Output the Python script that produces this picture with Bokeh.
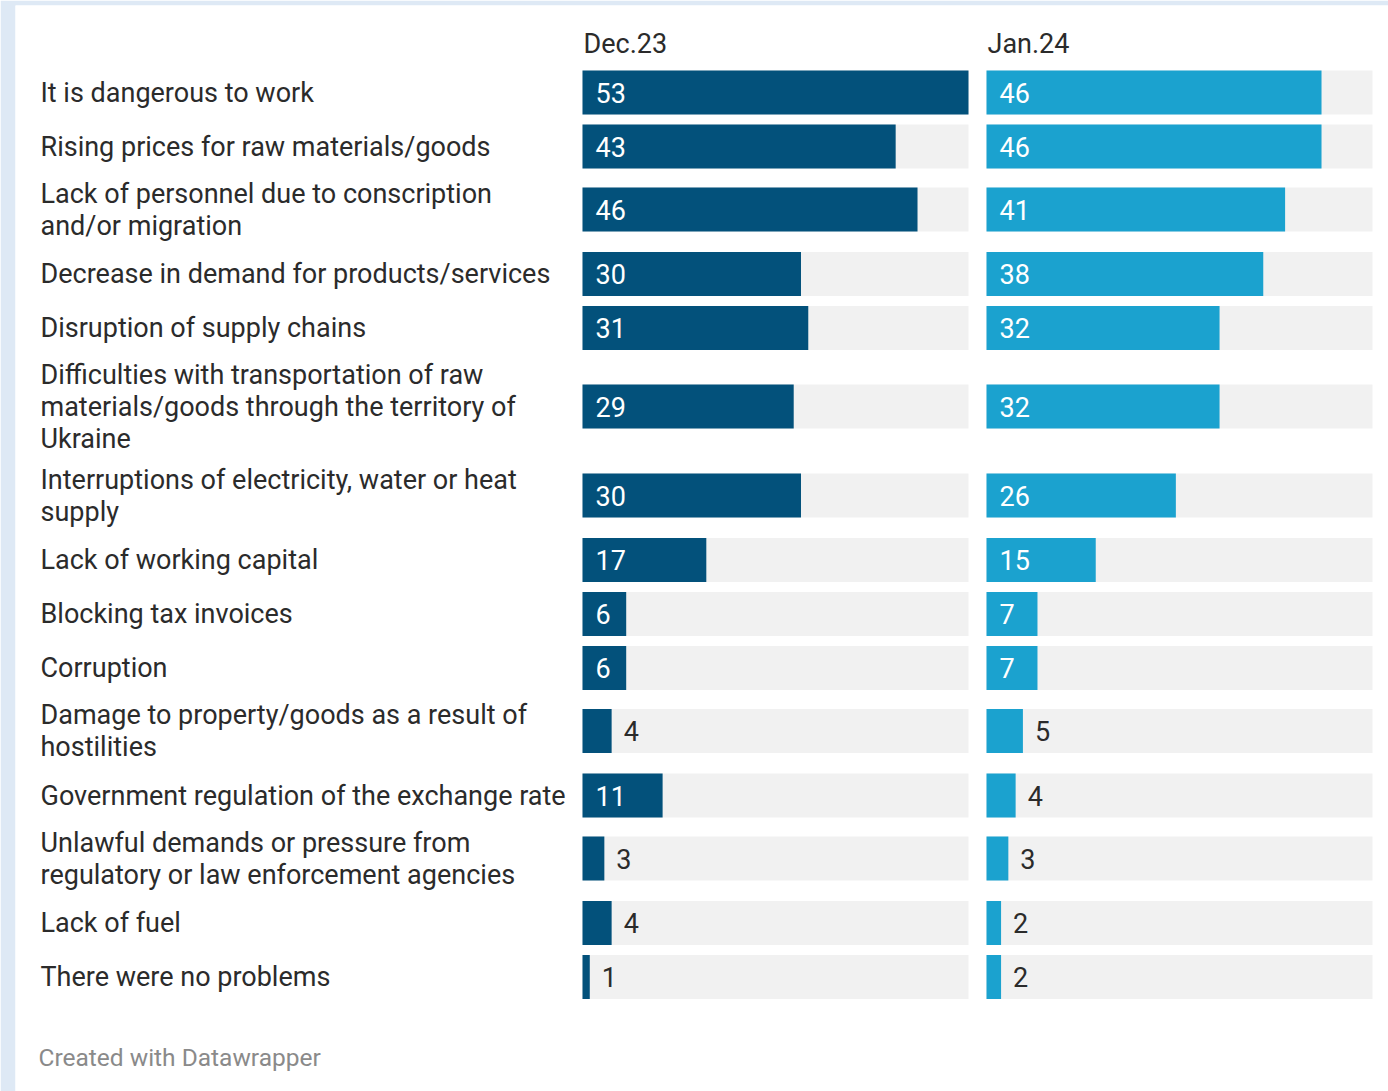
from bokeh.plotting import figure
from bokeh.models import Range1d, ColumnDataSource
from bokeh.embed import file_html
from bokeh.resources import INLINE
from bokeh.core.properties import value

# ---- data ----
categories = [
    "It is dangerous to work",
    "Rising prices for raw materials/goods",
    "Lack of personnel due to conscription\nand/or migration",
    "Decrease in demand for products/services",
    "Disruption of supply chains",
    "Difficulties with transportation of raw\nmaterials/goods through the territory of\nUkraine",
    "Interruptions of electricity, water or heat\nsupply",
    "Lack of working capital",
    "Blocking tax invoices",
    "Corruption",
    "Damage to property/goods as a result of\nhostilities",
    "Government regulation of the exchange rate",
    "Unlawful demands or pressure from\nregulatory or law enforcement agencies",
    "Lack of fuel",
    "There were no problems",
]
dec23 = [53, 43, 46, 30, 31, 29, 30, 17, 6, 6, 4, 11, 3, 4, 1]
jan24 = [46, 46, 41, 38, 32, 32, 26, 15, 7, 7, 5, 4, 3, 2, 2]
series_names = ["Dec.23", "Jan.24"]
footer = "Created with Datawrapper"

# ---- layout constants (pixels) ----
W, H = 1388, 1091
BORDER_L, BORDER_T = 15, 5
PANEL_X0 = 582          # page x of the first panel's zero
PANEL_W = 386           # width of a panel in pixels
PANEL_GAP = 18
BAR_H = 44
ROW_GAP = 10
HALF_LINE = 15.5
FIRST_TOP = 65          # frame y of first row top
FONT = "Roboto"
FS = "27px"

DEC_COL = "#03517b"
JAN_COL = "#1ba2cf"
TRACK = "#f1f1f1"
TXT = "#2b2b2b"

vmax = max(max(dec23), max(jan24))
s = PANEL_W / vmax
x_start = (BORDER_L - PANEL_X0) / s
x_end = (W - PANEL_X0) / s
jan_off = (PANEL_W + PANEL_GAP) / s
frame_h = H - BORDER_T

# row centres from number of label lines
centers = []
top = FIRST_TOP
for c in categories:
    n = c.count("\n") + 1
    if n == 1:
        up, down = BAR_H / 2, BAR_H / 2
    else:
        up, down = n * HALF_LINE, n * HALF_LINE + 1.5
    centers.append(top + up)
    top += up + down + ROW_GAP

p = figure(width=W, height=H, output_backend="svg", toolbar_location=None,
           x_range=Range1d(x_start, x_end), y_range=Range1d(frame_h, 0),
           min_border_left=BORDER_L, min_border_top=BORDER_T,
           min_border_right=0, min_border_bottom=0)
p.axis.visible = False
p.grid.visible = False
p.outline_line_color = None
p.background_fill_color = "white"
p.border_fill_color = "#dee9f5"

for off, vals, col, name in [(0, dec23, DEC_COL, series_names[0]),
                             (jan_off, jan24, JAN_COL, series_names[1])]:
    src = ColumnDataSource(dict(
        y=centers,
        left=[off] * len(vals),
        right=[off + v for v in vals],
        full=[off + vmax] * len(vals),
    ))
    p.hbar(y="y", left="left", right="full", height=BAR_H, source=src,
           fill_color=TRACK, line_color=None)
    p.hbar(y="y", left="left", right="right", height=BAR_H, source=src,
           fill_color=col, line_color=None)

    inside = [i for i, v in enumerate(vals) if v >= 6]
    outside = [i for i, v in enumerate(vals) if v < 6]
    p.text(x=[off] * len(inside), y=[centers[i] for i in inside],
           text=[str(vals[i]) for i in inside], x_offset=13,
           text_baseline="middle", text_align="left",
           text_font=value(FONT), text_font_size=FS, text_color="white")
    p.text(x=[off + vals[i] for i in outside], y=[centers[i] for i in outside],
           text=[str(vals[i]) for i in outside], x_offset=12,
           text_baseline="middle", text_align="left",
           text_font=value(FONT), text_font_size=FS, text_color=TXT)
    p.text(x=[off], y=[38], text=[name], x_offset=1,
           text_baseline="middle", text_align="left",
           text_font=value(FONT), text_font_size=FS, text_color=TXT)

p.text(x=[x_start] * len(categories), y=centers, text=categories, x_offset=25,
       text_baseline="middle", text_align="left", text_line_height=1.0,
       text_font=value(FONT), text_font_size=FS, text_color=TXT)

p.text(x=[x_start], y=[1052], text=[footer], x_offset=23,
       text_baseline="middle", text_align="left",
       text_font=value(FONT), text_font_size="24.5px", text_color="#8a8a8a")

open("out.html", "w").write(file_html(p, INLINE))
